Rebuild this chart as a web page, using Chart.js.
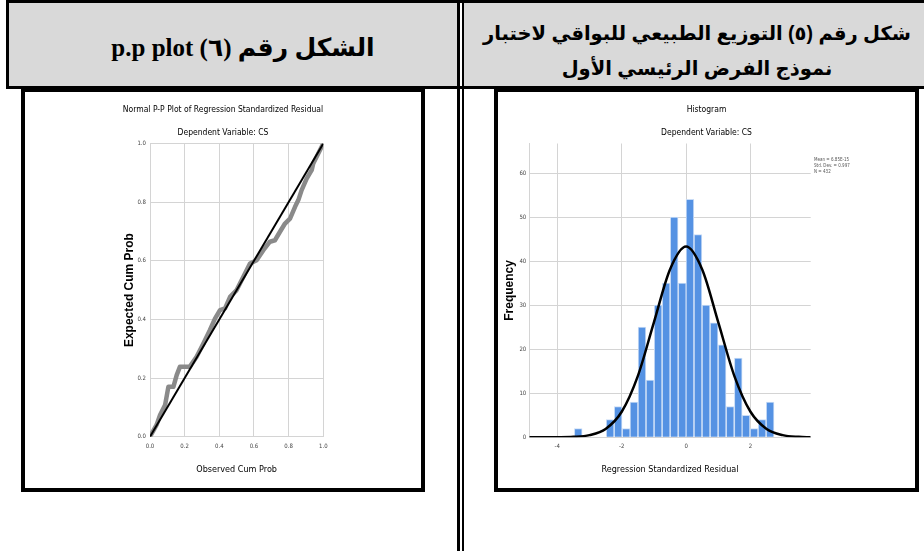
<!DOCTYPE html>
<html><head><meta charset="utf-8">
<script src="https://cdn.jsdelivr.net/npm/chart.js@4.4.1/dist/chart.umd.min.js"></script>
<style>
html,body{margin:0;padding:0;background:#fff;}
body{width:924px;height:551px;overflow:hidden;position:relative;}
.blk{position:absolute;background:#000;}
.gray{position:absolute;background:#d9d9d9;}
.cell{position:absolute;display:flex;align-items:center;justify-content:center;text-align:center;direction:rtl;font-weight:bold;color:#000;box-sizing:border-box;white-space:nowrap;}
#h1{left:9px;top:3px;width:448px;height:83px;padding-top:5px;padding-left:20px;font-family:'Liberation Serif','DejaVu Sans',serif;font-size:25px;}
#h2{left:464px;top:3px;width:460px;height:83px;padding-top:12px;padding-left:6px;font-family:'Liberation Sans','DejaVu Sans',sans-serif;font-size:19.5px;line-height:35px;}
.box{position:absolute;border:4px solid #000;box-sizing:border-box;background:#fff;}
#boxL{left:21px;top:88px;width:404px;height:404px;}
#boxR{left:494px;top:88px;width:425px;height:404px;}
canvas{position:absolute;}
#pp{left:25px;top:92px;}
#hist{left:498px;top:92px;}
#stats{position:absolute;left:814px;top:156px;font-family:'DejaVu Sans Condensed',sans-serif;font-size:9px;line-height:12px;color:#555;transform:scale(0.5);transform-origin:0 0;white-space:nowrap;}
</style></head>
<body>
<div class="gray" style="left:9px;top:3px;width:448px;height:83px"></div>
<div class="gray" style="left:464px;top:3px;width:460px;height:83px"></div>
<div class="blk" style="left:6px;top:0;width:918px;height:3px"></div>
<div class="blk" style="left:6px;top:0;width:3px;height:89px"></div>
<div class="blk" style="left:6px;top:86px;width:918px;height:3px"></div>
<div class="blk" style="left:457px;top:0;width:3px;height:551px"></div>
<div class="blk" style="left:462px;top:0;width:2px;height:551px"></div>
<div class="cell" id="h1">الشكل رقم (٦) p.p plot</div>
<div class="cell" id="h2">شكل رقم (٥) التوزيع الطبيعي للبواقي لاختبار<br>نموذج الفرض الرئيسي الأول</div>
<div class="box" id="boxL"></div>
<div class="box" id="boxR"></div>
<canvas id="pp" width="396" height="396"></canvas>
<canvas id="hist" width="417" height="396"></canvas>
<div id="stats">Mean = 6.85E-15<br>Std. Dev. = 0.997<br>N = 432</div>
<script>
// ---- P-P plot data ----
const ppObserved = [0, 0.038, 0.058, 0.087, 0.106, 0.135, 0.154, 0.173, 0.23, 0.269, 0.308, 0.346, 0.375, 0.404, 0.433, 0.462, 0.5, 0.538, 0.577, 0.615, 0.654, 0.692, 0.721, 0.75, 0.779, 0.808, 0.837, 0.856, 0.875, 0.904, 0.933, 0.942, 0.971, 1];
const ppExpected = [0, 0.04, 0.074, 0.108, 0.17, 0.17, 0.21, 0.239, 0.239, 0.273, 0.318, 0.364, 0.403, 0.432, 0.4375, 0.477, 0.5, 0.545, 0.591, 0.602, 0.636, 0.665, 0.67, 0.699, 0.727, 0.744, 0.784, 0.807, 0.841, 0.88, 0.909, 0.932, 0.966, 1];
const refX = [0, 1];
const refY = [0, 1];
const ppTicks = [0, 0.2, 0.4, 0.6, 0.8, 1.0];

// ---- Histogram data ----
const binCenters = [-3.35, -3.11, -2.86, -2.61, -2.36, -2.11, -1.86, -1.62, -1.37, -1.12, -0.87, -0.62, -0.37, -0.12, 0.12, 0.37, 0.62, 0.87, 1.12, 1.37, 1.62, 1.86, 2.11, 2.36, 2.61];
const binCounts = [2, 0, 0, 0, 4, 7, 2, 8, 25, 13, 30, 35, 50, 35, 54, 46, 30, 26, 21, 7, 18, 5, 2, 4, 8];
const normX = [-4.87, -4, -3.5, -3, -2.5, -2, -1.5, -1, -0.5, 0, 0.5, 1, 1.5, 2, 2.5, 3, 3.5, 3.87];
const normY = [0, 0.02, 0.1, 0.5, 1.9, 5.8, 13.9, 26.1, 38.1, 43.3, 38.1, 26.1, 13.9, 5.8, 1.9, 0.5, 0.1, 0.01];
const histXTicks = [-4, -2, 0, 2];
const histYTicks = [0, 10, 20, 30, 40, 50, 60];

const NARROW = "'Liberation Sans Narrow','DejaVu Sans Condensed',sans-serif";
const BOLD = "'Liberation Sans',Arial,sans-serif";
const GRID = '#d4d4d4';
const TSIZE = 8.5;

new Chart(document.getElementById('pp'), {
  type: 'scatter',
  data: { datasets: [
    { data: refX.map((x, i) => ({x, y: refY[i]})), showLine: true, borderColor: '#000', borderWidth: 2, pointRadius: 0, order: 0, xAxisID: 'x', yAxisID: 'y' },
    { data: ppObserved.map((x, i) => ({x, y: ppExpected[i]})), showLine: true, borderColor: '#8a8a8a', borderWidth: 4.5, pointRadius: 0, borderCapStyle: 'round', borderJoinStyle: 'round', order: 1, xAxisID: 'x', yAxisID: 'y' }
  ]},
  options: {
    responsive: false, animation: false, devicePixelRatio: 1,
    layout: { padding: 0 },
    plugins: {
      legend: { display: false }, tooltip: { enabled: false },
      title: { display: true, text: 'Normal P-P Plot of Regression Standardized Residual', font: { family: NARROW, size: TSIZE, weight: 'normal' }, color: '#000', padding: { top: 12.9, bottom: 12.8 } },
      subtitle: { display: true, text: 'Dependent Variable: CS', font: { family: NARROW, size: TSIZE }, color: '#000', padding: { top: 0, bottom: 5.4 } }
    },
    scales: {
      x: { type: 'linear', min: 0, max: 1,
        afterBuildTicks: s => { s.ticks = ppTicks.map(v => ({value: v})); },
        afterFit: s => { s.height = 51.3; },
        ticks: { font: { family: NARROW, size: 6 }, color: '#444', padding: 6, maxRotation: 0, autoSkip: false, callback: v => Number(v).toFixed(1) },
        grid: { color: GRID, lineWidth: 1, drawTicks: false }, border: { color: GRID },
        title: { display: true, text: 'Observed Cum Prob', font: { family: NARROW, size: 9 }, color: '#000', padding: { top: 0, bottom: 12.6 } } },
      y: { type: 'linear', min: 0, max: 1,
        afterBuildTicks: s => { s.ticks = ppTicks.map(v => ({value: v})); },
        afterFit: s => { s.width = 125; },
        ticks: { font: { family: NARROW, size: 6 }, color: '#444', padding: 4, autoSkip: false, callback: v => Number(v).toFixed(1) },
        grid: { color: GRID, lineWidth: 1, drawTicks: false }, border: { color: GRID },
        title: { display: true, text: 'Expected Cum Prob', font: { family: BOLD, size: 12, weight: 'bold' }, color: '#000', padding: { top: 97.8, bottom: 0 } } },
      pad: { type: 'linear', position: 'right', display: true, ticks: { display: false }, grid: { display: false }, border: { display: false }, afterFit: s => { s.width = 97.7; } }
    }
  }
});

new Chart(document.getElementById('hist'), {
  type: 'bar',
  data: { datasets: [
    { type: 'line', data: normX.map((x, i) => ({x, y: normY[i]})), borderColor: '#000', borderWidth: 2.5, pointRadius: 0, cubicInterpolationMode: 'monotone', order: 0, xAxisID: 'x', yAxisID: 'y' },
    { type: 'bar', data: binCenters.map((x, i) => ({x, y: binCounts[i]})), backgroundColor: '#5592e3', borderColor: '#c9dcf6', borderWidth: 1, barPercentage: 1, categoryPercentage: 1, order: 1, xAxisID: 'x', yAxisID: 'y' }
  ]},
  options: {
    responsive: false, animation: false, devicePixelRatio: 1,
    layout: { padding: 0 },
    plugins: {
      legend: { display: false }, tooltip: { enabled: false },
      title: { display: true, text: 'Histogram', font: { family: NARROW, size: TSIZE, weight: 'normal' }, color: '#000', padding: { top: 12.9, bottom: 12.8 } },
      subtitle: { display: true, text: 'Dependent Variable: CS', font: { family: NARROW, size: TSIZE }, color: '#000', padding: { top: 0, bottom: 5.4 } }
    },
    scales: {
      x: { type: 'linear', min: -4.87, max: 3.87, offset: false,
        afterBuildTicks: s => { s.ticks = histXTicks.map(v => ({value: v})); },
        afterFit: s => { s.height = 50.7; },
        ticks: { font: { family: NARROW, size: 6 }, color: '#444', padding: 6, maxRotation: 0, autoSkip: false },
        grid: { color: GRID, lineWidth: 1, drawTicks: false, offset: false }, border: { color: GRID },
        title: { display: true, text: 'Regression Standardized Residual', font: { family: NARROW, size: 9 }, color: '#000', padding: { top: 0, bottom: 12.6 } } },
      y: { type: 'linear', min: 0, max: 66.7,
        afterBuildTicks: s => { s.ticks = histYTicks.map(v => ({value: v})); },
        afterFit: s => { s.width = 31.3; },
        ticks: { font: { family: NARROW, size: 6 }, color: '#444', padding: 3, autoSkip: false },
        grid: { color: GRID, lineWidth: 1, drawTicks: false }, border: { color: GRID },
        title: { display: true, text: 'Frequency', font: { family: BOLD, size: 12, weight: 'bold' }, color: '#000', padding: { top: 4.8, bottom: 0 } } },
      pad: { type: 'linear', position: 'right', display: true, ticks: { display: false }, grid: { display: false }, border: { display: false }, afterFit: s => { s.width = 104.3; } }
    }
  }
});
</script>
</body></html>
